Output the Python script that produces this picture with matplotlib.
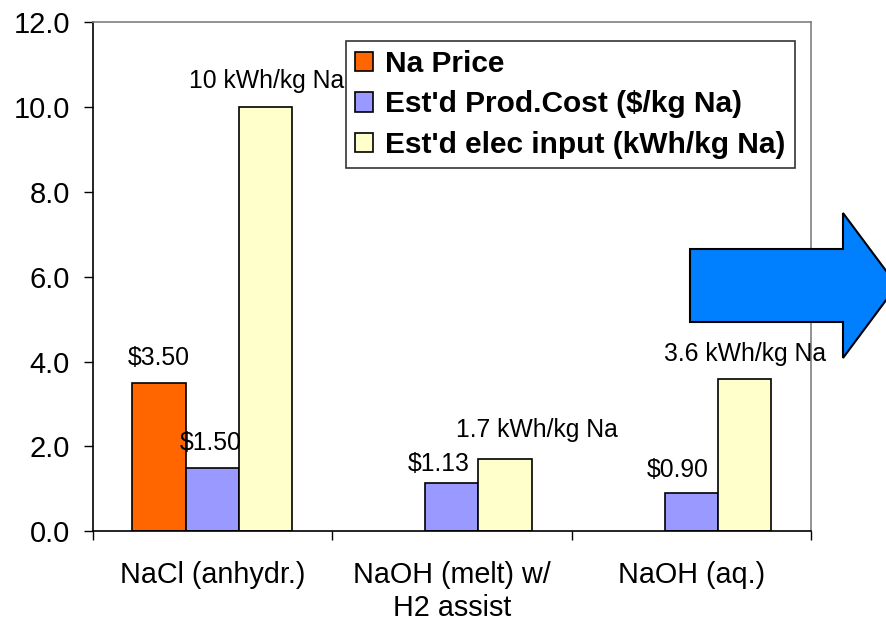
import numpy as np
import matplotlib
matplotlib.use("Agg")
import matplotlib.pyplot as plt
from matplotlib.patches import Polygon

plt.rcParams['font.family'] = ['Liberation Sans', 'DejaVu Sans']

# Data
categories = ["NaCl (anhydr.)", "NaOH (melt) w/\nH2 assist", "NaOH (aq.)"]
na_price = [3.50, np.nan, np.nan]
prod_cost = [1.50, 1.13, 0.90]
elec_input = [10.0, 1.7, 3.6]
series_names = ["Na Price", "Est'd Prod.Cost ($/kg Na)", "Est'd elec input (kWh/kg Na)"]
price_labels = ["$3.50", None, None]
cost_labels = ["$1.50", "$1.13", "$0.90"]
elec_labels = ["10 kWh/kg Na", "1.7 kWh/kg Na", "3.6 kWh/kg Na"]
y_ticks = [0.0, 2.0, 4.0, 6.0, 8.0, 10.0, 12.0]

colors = ["#FF6600", "#9999FF", "#FFFFCC"]

fig = plt.figure(figsize=(8.86, 6.23), dpi=100)
ax = fig.add_axes([0.1046, 0.1472, 0.8107, 0.8175])

x = np.arange(len(categories))
w = 0.2227
series = [na_price, prod_cost, elec_input]
bars = []
for i, (vals, col, name) in enumerate(zip(series, colors, series_names)):
    b = ax.bar(x + (i - 1) * w, vals, width=w, color=col, edgecolor="black",
               linewidth=1.2, label=name, zorder=2)
    bars.append(b)

# Value labels: (dx px, baseline dy px) offsets from each bar top
label_sets = [
    (price_labels, [(0, 18), None, None]),
    (cost_labels, [(-1.5, 18), (-13.5, 12), (-13.5, 16.5)]),
    (elec_labels, [(1, 19), (31.5, 22.5), (0, 18)]),
]
for b, (texts, offs) in zip(bars, label_sets):
    for rect, t, off in zip(b, texts, offs):
        if t is None:
            continue
        cx = rect.get_x() + rect.get_width() / 2
        ax.annotate(t, xy=(cx, rect.get_height()), xytext=off,
                    textcoords="offset pixels", ha="center", va="baseline",
                    fontsize=17.8, zorder=4)

ax.set_xlim(-0.5, 2.5)
ax.set_ylim(0, 12)
ax.set_yticks(y_ticks)
ax.set_yticklabels([f"{v:.1f}" for v in y_ticks], fontsize=21)
ax.tick_params(axis="y", length=6.5, width=1, pad=10, direction="out")

# category ticks sit on group boundaries
ax.set_xticks([-0.5, 0.5, 1.5, 2.5])
ax.set_xticklabels([])
ax.tick_params(axis="x", length=6.5, width=1, direction="out")
for xi, lab in zip(x, categories):
    ax.text(xi, -0.69, lab, ha="center", va="top", fontsize=20.7,
            linespacing=1.25, transform=ax.transData)

for side in ["top", "right"]:
    ax.spines[side].set_color("#808080")
    ax.spines[side].set_linewidth(1.2)
for side in ["left", "bottom"]:
    ax.spines[side].set_color("black")
    ax.spines[side].set_linewidth(1.2)

leg = ax.legend(loc="upper left", bbox_to_anchor=(0.3526, 0.9627),
                borderaxespad=0, fancybox=False, frameon=True,
                prop={"weight": "bold", "size": 21.5},
                handlelength=0.62, handleheight=0.62, handletextpad=0.4,
                borderpad=0.3, labelspacing=0.42)
leg.get_frame().set_edgecolor("black")
leg.get_frame().set_linewidth(1.2)
leg.set_zorder(5)

# Block arrow pointing right
W, H = 886.0, 623.0
pts = [(690, 249), (843, 249), (843, 213), (897, 285.5), (843, 358),
       (843, 322), (690, 322)]
arrow = Polygon([(px / W, 1 - py / H) for px, py in pts], closed=True,
                transform=fig.transFigure, facecolor="#0080FF",
                edgecolor="black", linewidth=1.5, zorder=10)
fig.patches.append(arrow)

fig.savefig("out.png", dpi=100)
